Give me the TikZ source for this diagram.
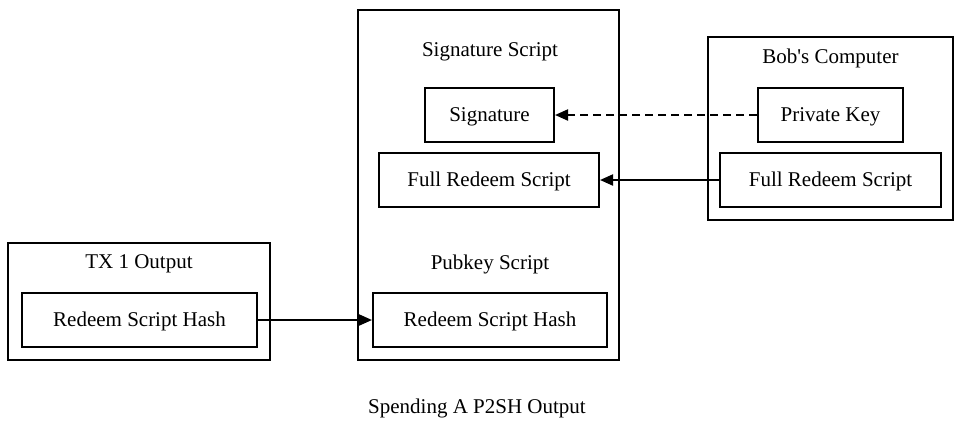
\documentclass[tikz,border=0pt]{standalone}
\usepackage{fontspec}
\setmainfont{Liberation Serif}
\usetikzlibrary{arrows.meta}
\begin{document}
\begin{tikzpicture}[x=1pt,y=-1pt,
  txt/.style={text height=13pt,text depth=1pt,font=\fontsize{21}{25}\selectfont},
  box/.style={txt,draw,line width=2pt,inner sep=0pt,minimum width=#1,minimum height=54pt},
  outer/.style={draw,line width=2pt,inner sep=0pt},
  lbl/.style={txt,inner sep=0pt},
  arr/.style={line width=2pt,-{Triangle[length=13pt,width=11pt]}}]
\useasboundingbox (0,0) rectangle (955,432);
% outer containers
\node[outer,minimum width=261pt,minimum height=350pt] (mid) at (488.5,185) {};
\node[outer,minimum width=245pt,minimum height=183pt] (bob) at (830.5,128.5) {};
\node[outer,minimum width=262pt,minimum height=117pt] (tx) at (139,301.5) {};
% labels
\node[lbl] (sigscript) at (490,50) {Signature Script};
\node[lbl] (pubscript) at (490,263) {Pubkey Script};
\node[lbl] (bobl) at (830.5,57) {Bob\textquotesingle s Computer};
\node[lbl] (txl) at (139,262) {TX 1 Output};
% inner boxes
\node[box=129pt] (sig) at (489.5,115) {Signature};
\node[box=220pt] (mfrs) at (489,180) {Full Redeem Script};
\node[box=234pt] (mrsh) at (490,320) {Redeem Script Hash};
\node[box=145pt] (pk) at (830.5,115) {Private Key};
\node[box=221pt] (bfrs) at (830.5,180) {Full Redeem Script};
\node[box=235pt] (lrsh) at (139.5,320) {Redeem Script Hash};
% connectors
\draw[arr,dash pattern=on 8pt off 5pt] (pk.west) -- (sig.east);
\draw[arr] (bfrs.west) -- (mfrs.east);
\draw[arr] (lrsh.east) -- (mrsh.west);
% caption
\node[lbl] (cap) at (477,407) {Spending A P2SH Output};
\end{tikzpicture}
\end{document}
